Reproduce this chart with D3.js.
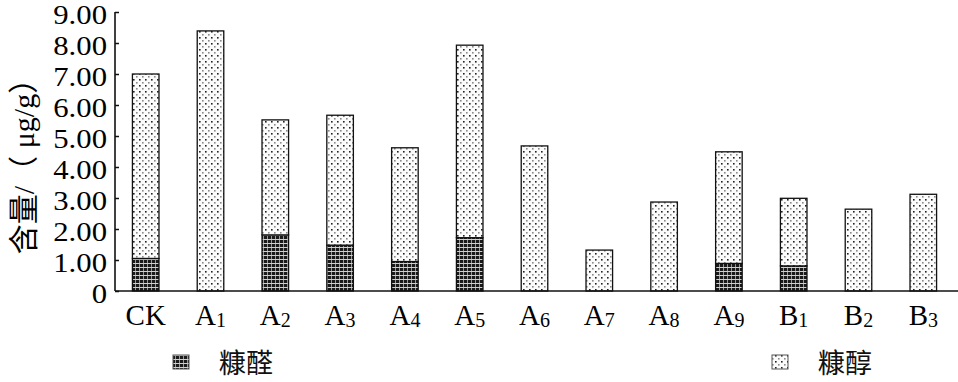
<!DOCTYPE html>
<html>
<head>
<meta charset="utf-8">
<script src="https://cdn.jsdelivr.net/npm/d3@7"></script>
<style>
html,body{margin:0;padding:0;background:#fff;}
svg{display:block;}
</style>
</head>
<body>
<svg id="chart" width="958" height="382"></svg>
<script>
const categories = ["CK","A1","A2","A3","A4","A5","A6","A7","A8","A9","B1","B2","B3"];
const furfural = [1.05,0,1.81,1.48,0.95,1.72,0,0,0,0.89,0.81,0,0];
const furfurylAlcohol = [5.95,8.39,3.71,4.19,3.67,6.21,4.68,1.32,2.87,3.60,2.18,2.64,3.12];
const yTicks = [0,1,2,3,4,5,6,7,8,9];
const seriesNames = ["糠醛","糠醇"];
const yTitle = "含量/（ μg/g）";

const svg = d3.select("#chart");
const defs = svg.append("defs");

// dark pattern (furfural)
const p1 = defs.append("pattern").attr("id","pDark").attr("patternUnits","userSpaceOnUse")
  .attr("width",4).attr("height",4);
p1.append("rect").attr("width",4).attr("height",4).attr("fill","#1a1a1a");
p1.append("rect").attr("x",3).attr("y",0).attr("width",1).attr("height",4).attr("fill","#9a9a9a");
p1.append("rect").attr("x",0).attr("y",3).attr("width",4).attr("height",1).attr("fill","#d0d0d0");

// light dotted pattern (furfuryl alcohol)
const p2 = defs.append("pattern").attr("id","pLight").attr("patternUnits","userSpaceOnUse")
  .attr("width",6).attr("height",6);
p2.append("rect").attr("width",6).attr("height",6).attr("fill","#fbfbfb");
p2.append("rect").attr("x",1).attr("y",1).attr("width",1.6).attr("height",1.6).attr("fill","#222");
p2.append("rect").attr("x",4).attr("y",4).attr("width",1.6).attr("height",1.6).attr("fill","#8a8a8a");

const x0 = 113.3, x1 = 113.3 + 13*64.8;
const x = d3.scaleBand().domain(categories).range([x0,x1]).paddingInner(0.59).paddingOuter(0.295);
const y = d3.scaleLinear().domain([0,9]).range([291,12]);

const data = categories.map((c,i)=>({c, f:furfural[i], a:furfurylAlcohol[i]}));
const stack = d3.stack().keys(["f","a"]);
const layers = stack(data);
const fills = ["url(#pDark)","url(#pLight)"];

layers.forEach((layer,li)=>{
  svg.append("g").selectAll("rect").data(layer.filter(d=>d[1]-d[0]>0)).join("rect")
    .attr("x",d=>x(d.data.c))
    .attr("width",x.bandwidth())
    .attr("y",d=>y(d[1]))
    .attr("height",d=>y(d[0])-y(d[1]))
    .attr("fill",fills[li])
    .attr("stroke","#111").attr("stroke-width",1.3);
});

// y axis
const yAxis = svg.append("g").attr("transform","translate(115,0)")
  .call(d3.axisRight(y).tickValues(yTicks).tickSize(4).tickFormat(""));
yAxis.select(".domain").attr("stroke","#111").attr("stroke-width",1.6).attr("d","M0,12V291");
yAxis.selectAll(".tick line").attr("stroke","#111").attr("stroke-width",1.5);

svg.append("g").selectAll("text").data(yTicks).join("text")
  .attr("x",107).attr("y",d=>y(d)+3)
  .attr("dy","0.35em")
  .attr("text-anchor","end")
  .attr("font-family","'Liberation Serif','Times New Roman',serif")
  .attr("font-size",26.5)
  .attr("transform",d=>`translate(107,0) scale(1.16,1) translate(-107,0)`)
  .text(d=>d===0?"0":d.toFixed(2));

// x axis line
svg.append("line").attr("x1",115).attr("x2",958).attr("y1",291).attr("y2",291)
  .attr("stroke","#111").attr("stroke-width",1.6);

// x labels
const xl = svg.append("g").selectAll("text").data(categories).join("text")
  .attr("x",d=>x(d)+x.bandwidth()/2)
  .attr("y",325)
  .attr("text-anchor","middle")
  .attr("font-family","'Liberation Serif','Times New Roman',serif")
  .attr("font-size",29);
xl.each(function(d){
  const t = d3.select(this);
  if(d==="CK"){ t.text(d); return; }
  t.append("tspan").text(d[0]);
  t.append("tspan").attr("font-size",20).attr("dy",2).text(d.slice(1));
});

// y title
svg.append("text")
  .attr("transform","translate(34,159) rotate(-90)")
  .attr("text-anchor","middle")
  .attr("font-family","'Liberation Serif','Noto Sans CJK SC',serif")
  .attr("font-size",30)
  .text(yTitle);

// legend
const legend = [{x:173, fill:fills[0], name:seriesNames[0]},{x:772, fill:fills[1], name:seriesNames[1]}];
legend.forEach(l=>{
  svg.append("rect").attr("x",l.x).attr("y",355).attr("width",16).attr("height",14)
    .attr("fill",l.fill).attr("stroke","#555").attr("stroke-width",1);
  svg.append("text").attr("x",l.x+46).attr("y",373)
    .attr("font-family","'Noto Sans CJK SC',sans-serif")
    .attr("font-size",27).attr("fill","#111")
    .text(l.name);
});
</script>
</body>
</html>
